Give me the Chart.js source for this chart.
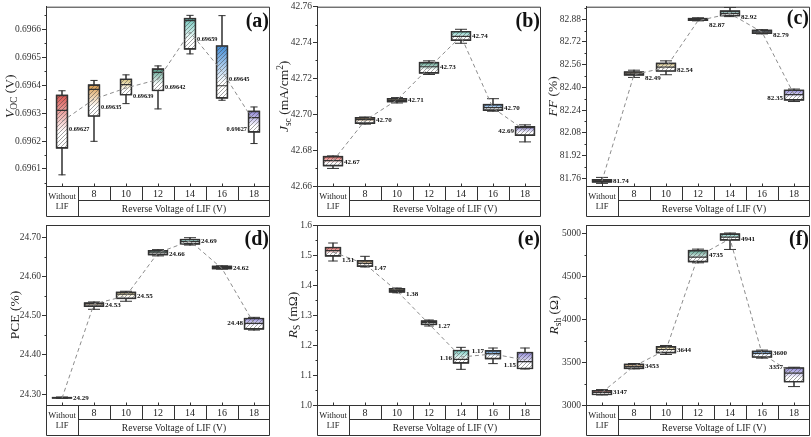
<!DOCTYPE html>
<html>
<head>
<meta charset="utf-8">
<script src="https://cdn.jsdelivr.net/npm/chart.js@4.4.1/dist/chart.umd.min.js"></script>
<style>
body{margin:0;background:#fff;}
#wrap{position:relative;width:811px;height:437px;overflow:hidden;background:#fff;}
canvas{position:absolute;}
</style>
</head>
<body>
<div id="wrap">
<canvas id="pa" width="271" height="218" style="left:0;top:0"></canvas>
<canvas id="pb" width="271" height="218" style="left:271px;top:0"></canvas>
<canvas id="pc" width="271" height="218" style="left:540px;top:0"></canvas>
<canvas id="pd" width="271" height="219" style="left:0;top:218px"></canvas>
<canvas id="pe" width="271" height="219" style="left:271px;top:218px"></canvas>
<canvas id="pf" width="271" height="219" style="left:540px;top:218px"></canvas>
</div>
<script>
const categories = ['Without LIF', '8', '10', '12', '14', '16', '18'];
const groupTitle = 'Reverse Voltage of LIF (V)';

// each box: [min, q1, median, q3, max]
const vocBoxes = [
  [0.696079, 0.696174, 0.696310, 0.696365, 0.696380],
  [0.696199, 0.696288, 0.696385, 0.696402, 0.696417],
  [0.696334, 0.696364, 0.696402, 0.696423, 0.696437],
  [0.696315, 0.696379, 0.696446, 0.696459, 0.696469],
  [0.696512, 0.696528, 0.696631, 0.696640, 0.696650],
  [0.696346, 0.696353, 0.696398, 0.696542, 0.696649],
  [0.696191, 0.696231, 0.696284, 0.696308, 0.696322]
];
const vocMeans = [0.69627, 0.69635, 0.69639, 0.69642, 0.69659, 0.69645, 0.69627];
const vocLabels = ['0.69627', '0.69635', '0.69639', '0.69642', '0.69659', '0.69645', '0.69627'];
const vocTicks = ['0.6961', '0.6962', '0.6963', '0.6964', '0.6965', '0.6966'];

const jscBoxes = [
  [42.6698, 42.6711, 42.6741, 42.6767, 42.6768],
  [42.6945, 42.6948, 42.6970, 42.6983, 42.6985],
  [42.7063, 42.7067, 42.7078, 42.7089, 42.7093],
  [42.7222, 42.7228, 42.7265, 42.7291, 42.7298],
  [42.7396, 42.7411, 42.7435, 42.7463, 42.7474],
  [42.7017, 42.7020, 42.7037, 42.7057, 42.7087],
  [42.6846, 42.6881, 42.6926, 42.6933, 42.6941]
];
const jscMeans = [42.674, 42.6965, 42.708, 42.726, 42.7435, 42.7035, 42.691];
const jscLabels = ['42.67', '42.70', '42.71', '42.73', '42.74', '42.70', '42.69'];
const jscTicks = ['42.66', '42.68', '42.70', '42.72', '42.74', '42.76'];

const ffBoxes = [
  [81.7225, 81.7295, 81.740, 81.7506, 81.7647],
  [82.470, 82.484, 82.500, 82.512, 82.521],
  [82.489, 82.512, 82.543, 82.573, 82.587],
  [82.869, 82.871, 82.880, 82.889, 82.891],
  [82.899, 82.903, 82.922, 82.941, 82.964],
  [82.777, 82.779, 82.791, 82.805, 82.807],
  [82.300, 82.308, 82.348, 82.383, 82.388]
];
const ffMeans = [81.74, 82.49, 82.54, 82.87, 82.92, 82.79, 82.35];
const ffLabels = ['81.74', '82.49', '82.54', '82.87', '82.92', '82.79', '82.35'];
const ffTicks = ['81.76', '81.92', '82.08', '82.24', '82.40', '82.56', '82.72', '82.88'];

const pceBoxes = [
  [24.2898, 24.2898, 24.2915, 24.2932, 24.2932],
  [24.5162, 24.5230, 24.5298, 24.5332, 24.5349],
  [24.5366, 24.5426, 24.5545, 24.5604, 24.5621],
  [24.6520, 24.6540, 24.6600, 24.6660, 24.6680],
  [24.6796, 24.6813, 24.6881, 24.6949, 24.6983],
  [24.6183, 24.6183, 24.6226, 24.6268, 24.6268],
  [24.4634, 24.4651, 24.4804, 24.4940, 24.4957]
];
const pceMeans = [24.29, 24.53, 24.55, 24.66, 24.69, 24.62, 24.48];
const pceLabels = ['24.29', '24.53', '24.55', '24.66', '24.69', '24.62', '24.48'];
const pceTicks = ['24.30', '24.40', '24.50', '24.60', '24.70'];

const rsBoxes = [
  [1.480, 1.4956, 1.5144, 1.5267, 1.540],
  [1.460, 1.4611, 1.4722, 1.4822, 1.4956],
  [1.374, 1.3756, 1.3820, 1.3889, 1.390],
  [1.2633, 1.2667, 1.2744, 1.2811, 1.2833],
  [1.1189, 1.1389, 1.1520, 1.1833, 1.1922],
  [1.138, 1.153, 1.171, 1.182, 1.190],
  [1.120, 1.120, 1.1444, 1.1767, 1.190]
];
const rsMeans = [1.51, 1.47, 1.38, 1.27, 1.16, 1.17, 1.15];
const rsLabels = ['1.51', '1.47', '1.38', '1.27', '1.16', '1.17', '1.15'];
const rsTicks = ['1.0', '1.1', '1.2', '1.3', '1.4', '1.5', '1.6'];

const rshBoxes = [
  [3117, 3117, 3148, 3172, 3180],
  [3422, 3422, 3449, 3480, 3484],
  [3590, 3605, 3648, 3684, 3695],
  [4660, 4668, 4727, 4809, 4820],
  [4816, 4922, 4961, 5000, 5008],
  [3547, 3555, 3602, 3633, 3641],
  [3215, 3266, 3371, 3438, 3441]
];
const rshMeans = [3147, 3453, 3644, 4735, 4941, 3600, 3357];
const rshLabels = ['3147', '3453', '3644', '4735', '4941', '3600', '3357'];
const rshTicks = ['3000', '3500', '4000', '4500', '5000'];

const boxColors = ['#d9534f', '#d89a4c', '#d6c27a', '#4e9a86', '#6cc5bb', '#3f89d4', '#8b82d4'];
const SERIF = '"Liberation Serif", "DejaVu Serif", serif';

function hatchTile() {
  const c = document.createElement('canvas');
  c.width = 4; c.height = 4;
  const g = c.getContext('2d');
  g.strokeStyle = 'rgba(60,60,60,0.6)';
  g.lineWidth = 0.8;
  g.beginPath();
  g.moveTo(0, 4); g.lineTo(4, 0);
  g.moveTo(-1, 1); g.lineTo(1, -1);
  g.moveTo(3, 5); g.lineTo(5, 3);
  g.stroke();
  return c;
}
const tile = hatchTile();

function fontOf(style, size) {
  if (style === 'i') return 'italic ' + size + 'px ' + SERIF;
  if (style === 'sub' || style === 'sup') return (size * 0.7) + 'px ' + SERIF;
  return size + 'px ' + SERIF;
}

function decorPlugin(p) {
  return {
    id: 'decor',
    afterDatasetsDraw(chart) {
      const { ctx, scales: { x, y } } = chart;
      ctx.save();
      ctx.fillStyle = '#111';
      ctx.font = 'bold ' + p.lf + 'px ' + SERIF;
      ctx.textBaseline = 'middle';
      p.labels.forEach((t, i) => {
        const cx = x.getPixelForValue(i);
        const cy = y.getPixelForValue(p.means[i]) + p.dy[i];
        if (p.side[i] === 'l') {
          ctx.textAlign = 'right';
          ctx.fillText(t, cx - p.boxW / 2 - 1, cy);
        } else {
          ctx.textAlign = 'left';
          ctx.fillText(t, cx + p.boxW / 2 + 1, cy);
        }
      });
      ctx.restore();
    },
    afterDraw(chart) {
      const { ctx, chartArea: a, scales: { x, y } } = chart;
      const L = a.left + 0.5, R = a.right - 0.5, T = a.top + 0.5, B = a.bottom + 0.5;
      const mid = a.bottom + 14.5, bot = a.bottom + 30.5;
      const step = x.getPixelForValue(1) - x.getPixelForValue(0);
      ctx.save();
      ctx.strokeStyle = '#333';
      ctx.lineWidth = 1;
      ctx.beginPath();
      // frame of the plot and the category table
      ctx.moveTo(L, T); ctx.lineTo(R, T); ctx.lineTo(R, bot); ctx.lineTo(L, bot); ctx.lineTo(L, T);
      ctx.moveTo(L, B); ctx.lineTo(R, B);
      const split = Math.round(x.getPixelForValue(0) + step / 2) + 0.5;
      ctx.moveTo(split, mid); ctx.lineTo(R, mid);
      ctx.moveTo(split, B); ctx.lineTo(split, bot);
      for (let i = 1; i < categories.length - 1; i++) {
        const xx = Math.round(x.getPixelForValue(i) + step / 2) + 0.5;
        ctx.moveTo(xx, B); ctx.lineTo(xx, mid);
      }
      // inward ticks on x
      for (let i = 0; i < categories.length; i++) {
        const xx = Math.round(x.getPixelForValue(i)) + 0.5;
        ctx.moveTo(xx, B); ctx.lineTo(xx, B - 3);
      }
      // minor ticks on y
      const tv = p.ticks.map(Number);
      const half = (tv[1] - tv[0]) / 2;
      for (let v = tv[0] - half; v <= tv[tv.length - 1] + half + 1e-9; v += 2 * half) {
        if (v < y.min || v > y.max) continue;
        const yy = Math.round(y.getPixelForValue(v)) + 0.5;
        ctx.moveTo(L, yy); ctx.lineTo(L - 2, yy);
      }
      ctx.stroke();

      // table text
      ctx.fillStyle = '#222';
      ctx.textAlign = 'center';
      ctx.textBaseline = 'middle';
      ctx.font = '10px ' + SERIF;
      for (let i = 1; i < categories.length; i++) {
        ctx.fillText(categories[i], x.getPixelForValue(i), a.bottom + 8);
      }
      ctx.font = '8.5px ' + SERIF;
      const w = categories[0].split(' ');
      ctx.fillText(w[0], x.getPixelForValue(0), a.bottom + 11);
      ctx.fillText(w[1], x.getPixelForValue(0), a.bottom + 20.5);
      ctx.font = '9.5px ' + SERIF;
      ctx.fillText(groupTitle, (split + R) / 2, a.bottom + 23);

      // y axis title with sub/superscripts
      const size = 13.5;
      let total = 0;
      p.title.forEach(([t, s]) => { ctx.font = fontOf(s, size); total += ctx.measureText(t).width; });
      ctx.translate(p.titleX, (a.top + a.bottom) / 2);
      ctx.rotate(-Math.PI / 2);
      ctx.textAlign = 'left';
      ctx.textBaseline = 'alphabetic';
      let tx = -total / 2;
      p.title.forEach(([t, s]) => {
        ctx.font = fontOf(s, size);
        const dy = s === 'sub' ? 3 : s === 'sup' ? -5 : 0;
        ctx.fillText(t, tx, 4.5 + dy);
        tx += ctx.measureText(t).width;
      });
      ctx.setTransform(1, 0, 0, 1, 0, 0);

      // panel letter
      ctx.fillStyle = '#111';
      ctx.font = 'bold 20px ' + SERIF;
      ctx.textAlign = 'right';
      ctx.textBaseline = 'middle';
      ctx.fillText(p.letter, a.right - 1, a.top + p.letterY);
      ctx.restore();
    }
  };
}

function makePanel(p) {
  const hatch = document.getElementById(p.el).getContext('2d').createPattern(tile, 'repeat');
  const tickVals = p.ticks.map(Number);
  const datasets = [
    {
      type: 'line', label: 'mean', data: p.means, order: 1,
      borderColor: '#8c8c8c', borderWidth: 1, borderDash: [4, 3],
      pointRadius: 0, fill: false, tension: 0
    },
    {
      type: 'line', label: 'median', data: p.boxes.map(b => b[2]), order: 2,
      showLine: false, pointStyle: 'line', pointRadius: p.boxW / 2,
      pointBorderColor: '#333', pointBorderWidth: 1.2
    },
    {
      type: 'bar', label: 'hatch', data: p.boxes.map(b => [b[1], b[3]]), order: 3,
      grouped: false, barThickness: p.boxW, backgroundColor: hatch,
      borderColor: '#333', borderWidth: 1, borderSkipped: false
    },
    {
      type: 'bar', label: 'box', data: p.boxes.map(b => [b[1], b[3]]), order: 4,
      grouped: false, barThickness: p.boxW, borderColor: '#333', borderWidth: 1, borderSkipped: false,
      backgroundColor: (c) => {
        const chart = c.chart;
        const col = boxColors[c.dataIndex % boxColors.length];
        if (!chart.chartArea || c.type !== 'data') return col;
        const b = p.boxes[c.dataIndex];
        const y0 = chart.scales.y.getPixelForValue(b[3]);
        const y1 = chart.scales.y.getPixelForValue(b[1]);
        if (y1 - y0 < 2) return col;
        const g = chart.ctx.createLinearGradient(0, y0, 0, y1);
        g.addColorStop(0, col);
        g.addColorStop(0.7, '#ffffff');
        g.addColorStop(1, '#ffffff');
        return g;
      }
    },
    {
      type: 'line', label: 'capHigh', data: p.boxes.map(b => b[4]), order: 5,
      showLine: false, pointStyle: 'line', pointRadius: p.boxW * 0.3,
      pointBorderColor: '#333', pointBorderWidth: 1
    },
    {
      type: 'line', label: 'capLow', data: p.boxes.map(b => b[0]), order: 5,
      showLine: false, pointStyle: 'line', pointRadius: p.boxW * 0.3,
      pointBorderColor: '#333', pointBorderWidth: 1
    },
    {
      type: 'bar', label: 'whisker', data: p.boxes.map(b => [b[0], b[4]]), order: 6,
      grouped: false, barThickness: 1, backgroundColor: '#444', borderWidth: 0
    }
  ];
  return new Chart(document.getElementById(p.el), {
    type: 'bar',
    data: { labels: categories, datasets },
    options: {
      responsive: false,
      animation: false,
      devicePixelRatio: 1,
      layout: { autoPadding: false, padding: { left: 0, right: 1, top: p.padTop, bottom: 0 } },
      plugins: { legend: { display: false }, tooltip: { enabled: false } },
      scales: {
        x: {
          type: 'category', offset: true,
          grid: { display: false }, border: { display: false },
          ticks: { display: false },
          afterFit: (s) => { s.height = 32; }
        },
        y: {
          min: p.min, max: p.max,
          afterBuildTicks: (s) => { s.ticks = tickVals.map(v => ({ value: v })); },
          ticks: {
            callback: (v, i) => p.ticks[i],
            font: { family: SERIF, size: 9.5 }, color: '#333', padding: 1
          },
          grid: { drawOnChartArea: false, drawTicks: true, tickLength: 4, color: '#333' },
          border: { display: true, color: '#333' },
          afterFit: (s) => { s.width = 46; }
        }
      }
    },
    plugins: [decorPlugin(p)]
  });
}

makePanel({ el: 'pa', padTop: 6, boxes: vocBoxes, means: vocMeans, labels: vocLabels, ticks: vocTicks,
  min: 0.696039, max: 0.696681, boxW: 12, title: [['V', 'i'], ['OC', 'sub'], [' (V)', '']], titleX: 9,
  letter: '(a)', letterY: 15, side: 'rrrrrrl', dy: [8, 8, 8, 8, 7, 8, 8], lf: 6.3 });
makePanel({ el: 'pb', padTop: 6, boxes: jscBoxes, means: jscMeans, labels: jscLabels, ticks: jscTicks,
  min: 42.66, max: 42.76, boxW: 20, title: [['J', 'i'], ['sc', 'sub'], [' (mA/cm', ''], ['2', 'sup'], [')', '']], titleX: 12,
  letter: '(b)', letterY: 15, side: 'rrrrrrl', dy: [1, 0, 0, 0, 0, 0, 1], lf: 7 });
makePanel({ el: 'pc', padTop: 6, boxes: ffBoxes, means: ffMeans, labels: ffLabels, ticks: ffTicks,
  min: 81.704, max: 82.969, boxW: 20, title: [['FF', 'i'], [' (%)', '']], titleX: 12,
  letter: '(c)', letterY: 12, side: 'rrrrrrl', dy: [0, 4, 3, 4, 4, 3, 4], lf: 7 });
makePanel({ el: 'pd', padTop: 7, boxes: pceBoxes, means: pceMeans, labels: pceLabels, ticks: pceTicks,
  min: 24.2728, max: 24.7306, boxW: 20, title: [['PCE (%)', '']], titleX: 14,
  letter: '(d)', letterY: 15, side: 'rrrrrrl', dy: [0, 1, 0, 1, 0, 0, 0], lf: 7 });
makePanel({ el: 'pe', padTop: 7, boxes: rsBoxes, means: rsMeans, labels: rsLabels, ticks: rsTicks,
  min: 1.0, max: 1.6, boxW: 16, title: [['R', 'i'], ['S', 'sub'], [' (m\u03a9)', '']], titleX: 21,
  letter: '(e)', letterY: 15, side: 'rrrrlll', dy: [8, 4, 3, 2, 1, -3, 5], lf: 7 });
makePanel({ el: 'pf', padTop: 7, boxes: rshBoxes, means: rshMeans, labels: rshLabels, ticks: rshTicks,
  min: 3000, max: 5101.6, boxW: 20, title: [['R', 'i'], ['sh', 'sub'], [' (\u03a9)', '']], titleX: 13,
  letter: '(f)', letterY: 15, side: 'rrrrrrl', dy: [0, 0, 0, -1, 0, 0, -7], lf: 7 });
</script>
</body>
</html>
